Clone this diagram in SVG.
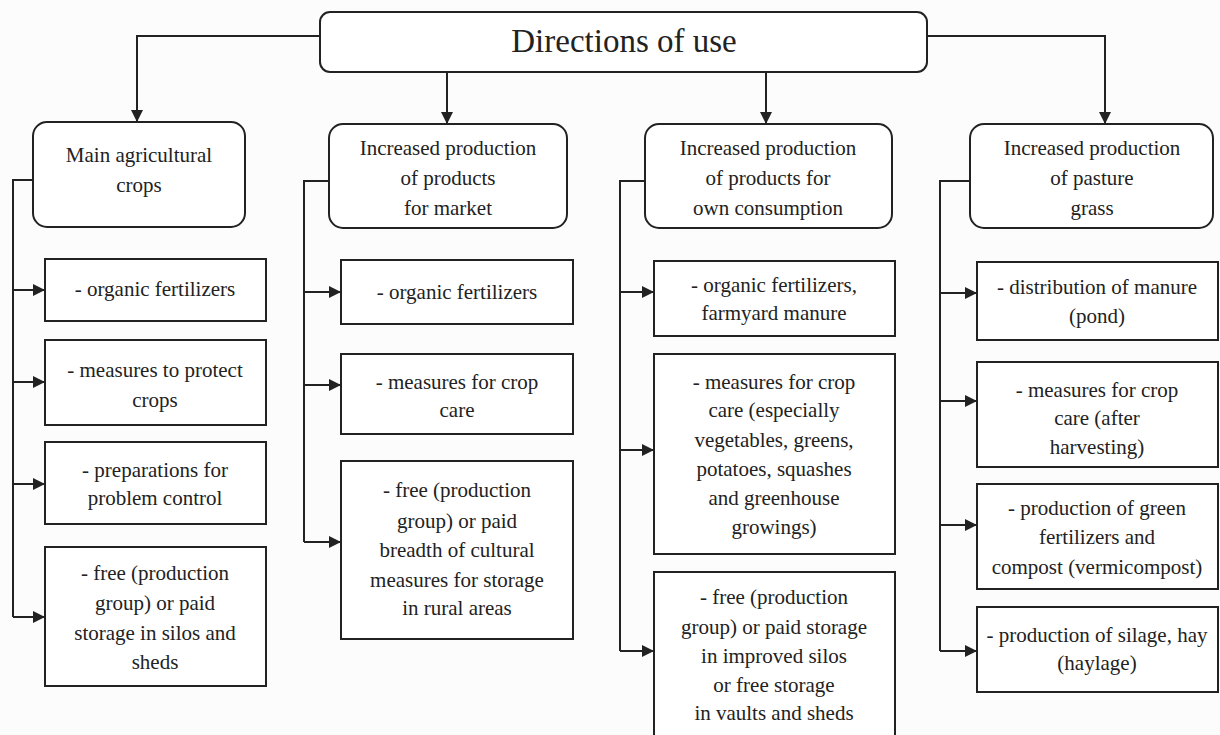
<svg xmlns="http://www.w3.org/2000/svg" width="1220" height="735" viewBox="0 0 1220 735">
<style>
.bg{fill:#fcfcfc}
.box{fill:#ffffff;stroke:#222;stroke-width:2}
.con{fill:none;stroke:#222;stroke-width:2}
text{font-family:"Times New Roman",Times,"Liberation Serif","DejaVu Serif","Noto Serif",Tinos,serif;fill:#222;text-anchor:middle}
.t{font-size:21px}
.title{font-size:33px}
</style>
<defs>
<marker id="ah" viewBox="0 0 12 12" refX="12" refY="6" markerWidth="12" markerHeight="12" markerUnits="userSpaceOnUse" orient="auto">
<path d="M0,0 L12,6 L0,12 z" fill="#222"/>
</marker>
</defs>
<rect class="bg" x="0" y="0" width="1220" height="735"/>

<g id="connectors">
<path class="con" d="M320,36 H137 V122" marker-end="url(#ah)"/>
<path class="con" d="M927,36 H1105 V124" marker-end="url(#ah)"/>
<path class="con" d="M447,72 V124" marker-end="url(#ah)"/>
<path class="con" d="M766,72 V124" marker-end="url(#ah)"/>

<path class="con" d="M33,180 H13 V617"/>
<path class="con" d="M13,290 H45" marker-end="url(#ah)"/>
<path class="con" d="M13,382 H45" marker-end="url(#ah)"/>
<path class="con" d="M13,484 H45" marker-end="url(#ah)"/>
<path class="con" d="M13,617 H45" marker-end="url(#ah)"/>

<path class="con" d="M329,181 H304 V542"/>
<path class="con" d="M304,292 H341" marker-end="url(#ah)"/>
<path class="con" d="M304,385 H341" marker-end="url(#ah)"/>
<path class="con" d="M304,542 H341" marker-end="url(#ah)"/>

<path class="con" d="M645,181 H620 V651"/>
<path class="con" d="M620,292 H654" marker-end="url(#ah)"/>
<path class="con" d="M620,450 H654" marker-end="url(#ah)"/>
<path class="con" d="M620,651 H654" marker-end="url(#ah)"/>

<path class="con" d="M970,181 H940 V651"/>
<path class="con" d="M940,293 H977" marker-end="url(#ah)"/>
<path class="con" d="M940,401 H977" marker-end="url(#ah)"/>
<path class="con" d="M940,525 H977" marker-end="url(#ah)"/>
<path class="con" d="M940,651 H977" marker-end="url(#ah)"/>
</g>

<g id="root">
<rect class="box" x="320" y="12" width="607" height="60" rx="10"/>
<text class="title" x="624" y="52">Directions of use</text>
</g>

<g id="main-crops">
<rect class="box" x="33" y="122" width="212" height="105" rx="14"/>
<text class="t" x="139" y="162">Main agricultural</text>
<text class="t" x="139" y="192">crops</text>
</g>
<g id="market">
<rect class="box" x="329" y="124" width="238" height="104" rx="14"/>
<text class="t" x="448" y="155">Increased production</text>
<text class="t" x="448" y="185">of products</text>
<text class="t" x="448" y="215">for market</text>
</g>
<g id="own">
<rect class="box" x="645" y="124" width="247" height="104" rx="14"/>
<text class="t" x="768" y="155">Increased production</text>
<text class="t" x="768" y="185">of products for</text>
<text class="t" x="768" y="215">own consumption</text>
</g>
<g id="pasture">
<rect class="box" x="970" y="124" width="243" height="104" rx="14"/>
<text class="t" x="1092" y="155">Increased production</text>
<text class="t" x="1092" y="185">of pasture</text>
<text class="t" x="1092" y="215">grass</text>
</g>

<g id="c1-organic">
<rect class="box" x="45" y="259" width="221" height="62"/>
<text class="t" x="155" y="296">- organic fertilizers</text>
</g>
<g id="c1-protect">
<rect class="box" x="45" y="340" width="221" height="85"/>
<text class="t" x="155" y="377">- measures to protect</text>
<text class="t" x="155" y="407">crops</text>
</g>
<g id="c1-prep">
<rect class="box" x="45" y="442" width="221" height="82"/>
<text class="t" x="155" y="477">- preparations for</text>
<text class="t" x="155" y="505">problem control</text>
</g>
<g id="c1-storage">
<rect class="box" x="45" y="547" width="221" height="139"/>
<text class="t" x="155" y="580">- free (production</text>
<text class="t" x="155" y="610">group) or paid</text>
<text class="t" x="155" y="640">storage in silos and</text>
<text class="t" x="155" y="669">sheds</text>
</g>

<g id="c2-organic">
<rect class="box" x="341" y="260" width="232" height="64"/>
<text class="t" x="457" y="299">- organic fertilizers</text>
</g>
<g id="c2-care">
<rect class="box" x="341" y="354" width="232" height="80"/>
<text class="t" x="457" y="389">- measures for crop</text>
<text class="t" x="457" y="417">care</text>
</g>
<g id="c2-storage">
<rect class="box" x="341" y="461" width="232" height="178"/>
<text class="t" x="457" y="497">- free (production</text>
<text class="t" x="457" y="528">group) or paid</text>
<text class="t" x="457" y="557">breadth of cultural</text>
<text class="t" x="457" y="587">measures for storage</text>
<text class="t" x="457" y="615">in rural areas</text>
</g>

<g id="c3-organic">
<rect class="box" x="654" y="261" width="241" height="75"/>
<text class="t" x="774" y="292">- organic fertilizers,</text>
<text class="t" x="774" y="320">farmyard manure</text>
</g>
<g id="c3-care">
<rect class="box" x="654" y="354" width="241" height="200"/>
<text class="t" x="774" y="389">- measures for crop</text>
<text class="t" x="774" y="417">care (especially</text>
<text class="t" x="774" y="447">vegetables, greens,</text>
<text class="t" x="774" y="476">potatoes, squashes</text>
<text class="t" x="774" y="505">and greenhouse</text>
<text class="t" x="774" y="534">growings)</text>
</g>
<g id="c3-storage">
<rect class="box" x="654" y="572" width="241" height="175"/>
<text class="t" x="774" y="604">- free (production</text>
<text class="t" x="774" y="634">group) or paid storage</text>
<text class="t" x="774" y="663">in improved silos</text>
<text class="t" x="774" y="692">or free storage</text>
<text class="t" x="774" y="720">in vaults and sheds</text>
</g>

<g id="c4-manure">
<rect class="box" x="977" y="262" width="241" height="78"/>
<text class="t" x="1097" y="294">- distribution of manure</text>
<text class="t" x="1097" y="323">(pond)</text>
</g>
<g id="c4-care">
<rect class="box" x="977" y="362" width="241" height="105"/>
<text class="t" x="1097" y="397">- measures for crop</text>
<text class="t" x="1097" y="425">care (after</text>
<text class="t" x="1097" y="454">harvesting)</text>
</g>
<g id="c4-green">
<rect class="box" x="977" y="484" width="241" height="105"/>
<text class="t" x="1097" y="515">- production of green</text>
<text class="t" x="1097" y="544">fertilizers and</text>
<text class="t" x="1097" y="574">compost (vermicompost)</text>
</g>
<g id="c4-silage">
<rect class="box" x="977" y="607" width="241" height="85"/>
<text class="t" x="1097" y="642">- production of silage, hay</text>
<text class="t" x="1097" y="670">(haylage)</text>
</g>
</svg>
